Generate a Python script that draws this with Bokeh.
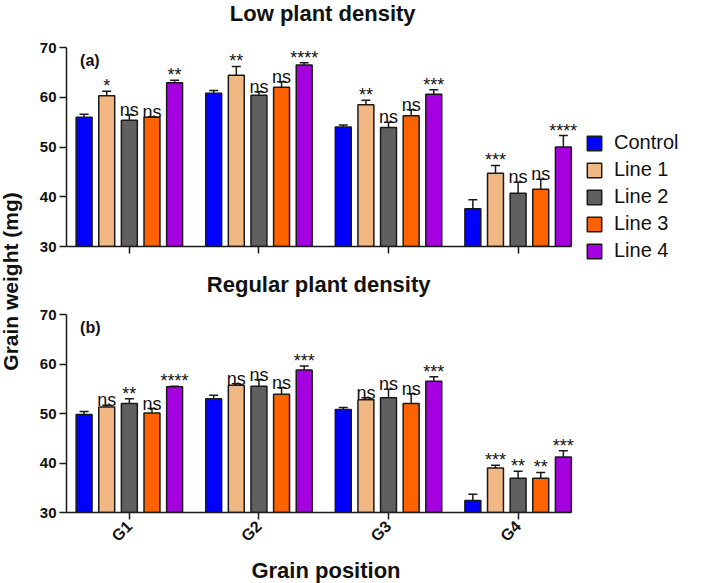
from math import pi
from bokeh.plotting import figure
from bokeh.models import (ColumnDataSource, FixedTicker, Whisker, TeeHead, Legend,
                          LegendItem, Label, Range1d)
from bokeh.layouts import column, row
from bokeh.transform import dodge
from bokeh.core.properties import value
from bokeh.embed import file_html
from bokeh.resources import INLINE

# ---------------- data ----------------
groups = ["G1", "G2", "G3", "G4"]
group_pos = [1, 2, 3, 4]
series = ["Control", "Line 1", "Line 2", "Line 3", "Line 4"]
colors = ["#0000FF", "#F2B883", "#606060", "#FF6200", "#A500E0"]

low_control = [56.0, 60.8, 54.0, 37.6]
low_line1 = [60.3, 64.4, 58.5, 44.7]
low_line2 = [55.4, 60.4, 53.9, 40.7]
low_line3 = [56.0, 62.0, 56.3, 41.5]
low_line4 = [62.9, 66.5, 60.6, 50.0]

low_control_err = [0.6, 0.55, 0.4, 1.8]
low_line1_err = [0.9, 1.8, 0.9, 1.6]
low_line2_err = [1.1, 0.7, 1.1, 2.2]
low_line3_err = [0.1, 1.1, 1.2, 2.0]
low_line4_err = [0.5, 0.45, 0.9, 2.3]

low_line1_sig = ["*", "**", "**", "***"]
low_line2_sig = ["ns", "ns", "ns", "ns"]
low_line3_sig = ["ns", "ns", "ns", "ns"]
low_line4_sig = ["**", "****", "***", "****"]

reg_control = [49.8, 53.0, 50.8, 32.4]
reg_line1 = [51.3, 55.7, 52.8, 39.0]
reg_line2 = [52.0, 55.5, 53.2, 36.9]
reg_line3 = [50.1, 53.9, 52.0, 36.9]
reg_line4 = [55.4, 58.8, 56.5, 41.2]

reg_control_err = [0.6, 0.7, 0.4, 1.3]
reg_line1_err = [0.35, 0.3, 0.4, 0.55]
reg_line2_err = [1.0, 1.3, 1.7, 1.45]
reg_line3_err = [0.9, 1.3, 2.0, 1.2]
reg_line4_err = [0.1, 0.8, 0.9, 1.3]

reg_line1_sig = ["ns", "ns", "ns", "***"]
reg_line2_sig = ["**", "ns", "ns", "**"]
reg_line3_sig = ["ns", "ns", "ns", "**"]
reg_line4_sig = ["****", "***", "***", "***"]

y_ticks = [30, 40, 50, 60, 70]

FONT = "Liberation Sans"
INK = "#1a1a1a"
Y0, Y1 = 30, 70
X0, X1 = 0.515, 4.415     # extent of the drawn x axis
XR = 4.52                 # frame extends a bit further so labels are not clipped
PX_PER_UNIT = 129.5
SLOT = 0.1746
BAR_W = 0.123
FRAME_W = int(round((XR - X0) * PX_PER_UNIT))
LEFT_W = 32
BORDER_L = 34

P1_TOP, P1_AXIS, P1_BOTTOM = 47, 199, 18
P2_START = P1_TOP + P1_AXIS + P1_BOTTOM
P2_TOP, P2_AXIS, P2_BOTTOM = 314 - P2_START, 198, 66


def make_panel(means, errs, sigs, tag, title, title_px, title_base_px,
               axis_h, top_px, b_bottom, show_labels):
    """axis_h: pixel height of the 30..70 axis; top_px: extra frame room above 70."""
    ppu = axis_h / (Y1 - Y0)
    y_top = Y1 + top_px / ppu
    p = figure(frame_width=FRAME_W, frame_height=axis_h + top_px,
               x_range=Range1d(X0, XR), y_range=Range1d(Y0, y_top),
               toolbar_location=None, output_backend="svg",
               min_border_left=BORDER_L, min_border_right=102,
               min_border_top=0, min_border_bottom=b_bottom)
    p.outline_line_color = None
    p.grid.grid_line_color = None
    p.background_fill_color = "white"

    bars = []
    for i, (name, col) in enumerate(zip(series, colors)):
        off = (i - 2) * SLOT
        m = means[i]
        e = errs[i]
        src = ColumnDataSource(dict(
            x=group_pos, top=m, up=[a + b for a, b in zip(m, e)],
            sig=sigs[i] if sigs[i] is not None else [""] * 4))
        r = p.vbar(x=dodge("x", off), top="top", bottom=Y0, width=BAR_W, source=src,
                   fill_color=col, line_color=INK, line_width=1.5)
        bars.append(r)
        w = Whisker(source=src, base=dodge("x", off), upper="up", lower="top",
                    line_color=INK, line_width=1.5, lower_head=None,
                    upper_head=TeeHead(size=9, line_color=INK, line_width=1.5),
                    level="glyph")
        p.add_layout(w)
        if sigs[i] is not None:
            p.text(x=dodge("x", off), y="up", text="sig", source=src,
                   text_align="center", text_baseline="alphabetic", y_offset=-5,
                   text_font=value(FONT), text_font_size="18px", text_color="#111")

    p.add_layout(Label(x=0.62, y=67.4, text=tag, text_font=FONT, text_font_size="16px",
                       text_font_style="bold", text_color="#111",
                       text_baseline="alphabetic"))

    # panel title, drawn inside the frame above the 70 mark
    tx = X0 + (title_px - (LEFT_W + BORDER_L)) / PX_PER_UNIT
    ty = Y1 + title_base_px / ppu
    p.add_layout(Label(x=tx, y=ty, text=title, text_align="center",
                       text_baseline="alphabetic", text_font=FONT, text_font_size="22px",
                       text_font_style="bold", text_color="#111"))

    for ax in (p.xaxis[0], p.yaxis[0]):
        ax.axis_line_width = 1.5
        ax.axis_line_color = INK
        ax.major_tick_line_width = 1.5
        ax.major_tick_line_color = INK
        ax.major_tick_out = 7
        ax.major_tick_in = 0
        ax.minor_tick_line_color = None
        ax.major_label_text_font = FONT
        ax.major_label_text_font_style = "bold"
        ax.major_label_text_font_size = "15px"
        ax.major_label_text_color = "#111"

    p.yaxis.ticker = FixedTicker(ticks=y_ticks)
    p.yaxis.bounds = (Y0, Y1)
    p.yaxis.major_label_standoff = 3
    p.xaxis.ticker = FixedTicker(ticks=group_pos)
    p.xaxis.bounds = (X0, X1)
    if show_labels:
        p.xaxis.major_label_overrides = {k: g for k, g in zip(group_pos, groups)}
        p.xaxis.major_label_orientation = pi / 4
        p.xaxis.major_label_standoff = 4
        p.xaxis.major_label_text_font_size = "16px"
        p.xaxis.axis_label = "Grain position"
        p.xaxis.axis_label_text_font = FONT
        p.xaxis.axis_label_text_font_size = "22px"
        p.xaxis.axis_label_text_font_style = "bold"
        p.xaxis.axis_label_text_color = "#111"
        p.xaxis.axis_label_standoff = 4
    else:
        p.xaxis.major_label_overrides = {k: "" for k in group_pos}
        p.xaxis.major_label_standoff = 0
    return p, bars


low_means = [low_control, low_line1, low_line2, low_line3, low_line4]
low_errs = [low_control_err, low_line1_err, low_line2_err, low_line3_err, low_line4_err]
low_sigs = [None, low_line1_sig, low_line2_sig, low_line3_sig, low_line4_sig]
reg_means = [reg_control, reg_line1, reg_line2, reg_line3, reg_line4]
reg_errs = [reg_control_err, reg_line1_err, reg_line2_err, reg_line3_err, reg_line4_err]
reg_sigs = [None, reg_line1_sig, reg_line2_sig, reg_line3_sig, reg_line4_sig]

# top panel: frame top at page 0, axis 70 at page 47, 30 at page 246
p1, bars1 = make_panel(low_means, low_errs, low_sigs, "(a)", "Low plant density",
                       322, P1_TOP - 13, P1_AXIS, P1_TOP, P1_BOTTOM, False)
# bottom panel: axis 70 at page 314, 30 at page 512
p2, bars2 = make_panel(reg_means, reg_errs, reg_sigs, "(b)", "Regular plant density",
                       318, 314 - 284, P2_AXIS, P2_TOP, P2_BOTTOM, True)

legend = Legend(items=[LegendItem(label=s, renderers=[r]) for s, r in zip(series, bars1)],
                location=(0, -16), orientation="vertical",
                label_text_font=FONT, label_text_font_size="20px", label_text_color="#111",
                glyph_width=18, glyph_height=18, label_height=22, spacing=4,
                padding=0, margin=0, label_standoff=11,
                border_line_color=None, background_fill_alpha=0)
p1.add_layout(legend, "right")

TOTAL_H = P2_START + P2_TOP + P2_AXIS + P2_BOTTOM
left = figure(width=LEFT_W, height=TOTAL_H, x_range=Range1d(0, LEFT_W),
              y_range=Range1d(0, TOTAL_H), toolbar_location=None, output_backend="svg",
              min_border=0, x_axis_location=None, y_axis_location=None)
left.outline_line_color = None
left.grid.visible = False
left.add_layout(Label(x=10, y=TOTAL_H - 278, angle=pi / 2, text="Grain  weight (mg)",
                      text_align="center", text_baseline="middle", text_font=FONT,
                      text_font_size="21px", text_font_style="bold", text_color="#111"))

layout = row(left, column(p1, p2))
open("out.html", "w").write(file_html(layout, INLINE))
